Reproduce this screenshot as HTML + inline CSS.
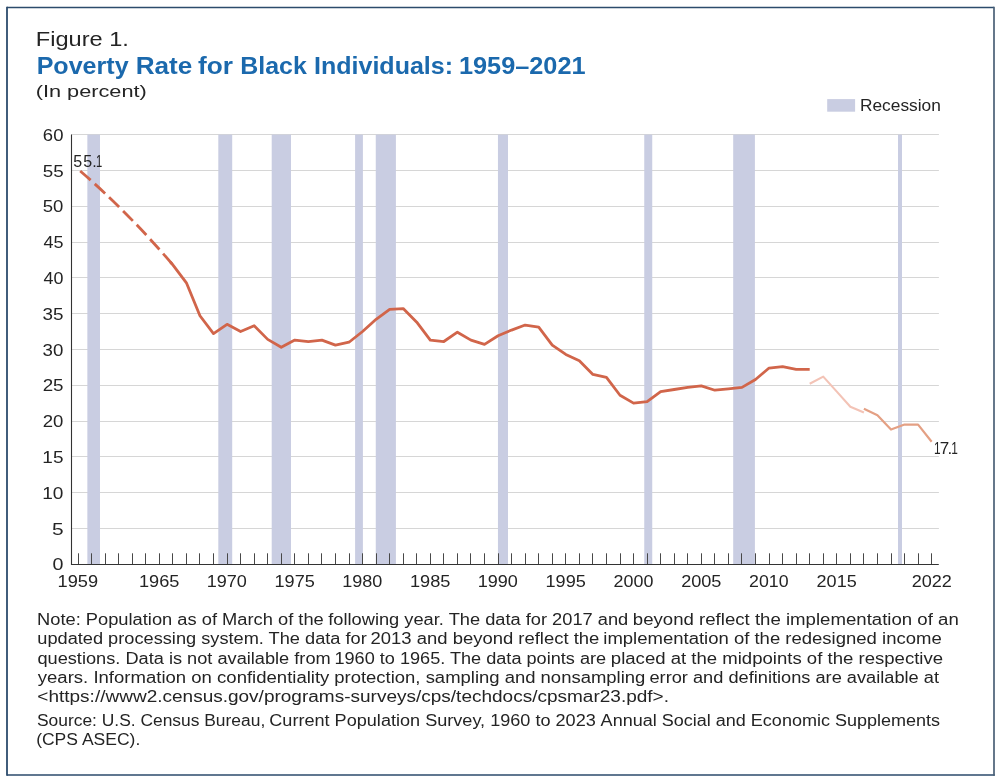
<!DOCTYPE html><html><head><meta charset="utf-8"><style>html,body{margin:0;padding:0;background:#fff;}svg{display:block}text{font-family:"Liberation Sans",Arial,sans-serif;}</style></head><body>
<svg width="1000" height="783" viewBox="0 0 1000 783">
<rect x="0" y="0" width="1000" height="783" fill="#fff"/>
<path d="M7,7.5 H994 M7,775 H994.8" stroke="#2c4b6c" stroke-width="1.7" fill="none"/>
<path d="M7,6.7 V775.8" stroke="#2c4b6c" stroke-width="1.8" fill="none"/>
<path d="M994,6.7 V775.8" stroke="#4a6076" stroke-width="1.7" fill="none"/>
<rect x="827.2" y="99.1" width="27.9" height="12.6" fill="#c9cde2"/>
<line x1="71.4" x2="938.9" y1="528.50" y2="528.50" stroke="#d6d6d6" stroke-width="1"/>
<line x1="71.4" x2="938.9" y1="492.50" y2="492.50" stroke="#d6d6d6" stroke-width="1"/>
<line x1="71.4" x2="938.9" y1="456.50" y2="456.50" stroke="#d6d6d6" stroke-width="1"/>
<line x1="71.4" x2="938.9" y1="421.50" y2="421.50" stroke="#d6d6d6" stroke-width="1"/>
<line x1="71.4" x2="938.9" y1="385.50" y2="385.50" stroke="#d6d6d6" stroke-width="1"/>
<line x1="71.4" x2="938.9" y1="349.50" y2="349.50" stroke="#d6d6d6" stroke-width="1"/>
<line x1="71.4" x2="938.9" y1="313.50" y2="313.50" stroke="#d6d6d6" stroke-width="1"/>
<line x1="71.4" x2="938.9" y1="277.50" y2="277.50" stroke="#d6d6d6" stroke-width="1"/>
<line x1="71.4" x2="938.9" y1="242.50" y2="242.50" stroke="#d6d6d6" stroke-width="1"/>
<line x1="71.4" x2="938.9" y1="206.50" y2="206.50" stroke="#d6d6d6" stroke-width="1"/>
<line x1="71.4" x2="938.9" y1="170.50" y2="170.50" stroke="#d6d6d6" stroke-width="1"/>
<line x1="71.4" x2="938.9" y1="134.50" y2="134.50" stroke="#d6d6d6" stroke-width="1"/>
<rect x="87.35" y="134.60" width="12.65" height="429.60" fill="#c9cde2"/>
<rect x="218.30" y="134.60" width="13.90" height="429.60" fill="#c9cde2"/>
<rect x="271.70" y="134.60" width="19.30" height="429.60" fill="#c9cde2"/>
<rect x="355.10" y="134.60" width="7.80" height="429.60" fill="#c9cde2"/>
<rect x="375.75" y="134.60" width="20.15" height="429.60" fill="#c9cde2"/>
<rect x="497.95" y="134.60" width="10.05" height="429.60" fill="#c9cde2"/>
<rect x="644.25" y="134.60" width="8.00" height="429.60" fill="#c9cde2"/>
<rect x="733.20" y="134.60" width="21.70" height="429.60" fill="#c9cde2"/>
<rect x="898.00" y="134.60" width="4.00" height="429.60" fill="#c9cde2"/>
<line x1="78.50" x2="78.50" y1="553.3" y2="564" stroke="#484848" stroke-width="1"/>
<line x1="91.50" x2="91.50" y1="553.3" y2="564" stroke="#484848" stroke-width="1"/>
<line x1="105.50" x2="105.50" y1="553.3" y2="564" stroke="#484848" stroke-width="1"/>
<line x1="118.50" x2="118.50" y1="553.3" y2="564" stroke="#484848" stroke-width="1"/>
<line x1="132.50" x2="132.50" y1="553.3" y2="564" stroke="#484848" stroke-width="1"/>
<line x1="145.50" x2="145.50" y1="553.3" y2="564" stroke="#484848" stroke-width="1"/>
<line x1="159.50" x2="159.50" y1="553.3" y2="564" stroke="#484848" stroke-width="1"/>
<line x1="172.50" x2="172.50" y1="553.3" y2="564" stroke="#484848" stroke-width="1"/>
<line x1="186.50" x2="186.50" y1="553.3" y2="564" stroke="#484848" stroke-width="1"/>
<line x1="199.50" x2="199.50" y1="553.3" y2="564" stroke="#484848" stroke-width="1"/>
<line x1="213.50" x2="213.50" y1="553.3" y2="564" stroke="#484848" stroke-width="1"/>
<line x1="227.50" x2="227.50" y1="553.3" y2="564" stroke="#484848" stroke-width="1"/>
<line x1="240.50" x2="240.50" y1="553.3" y2="564" stroke="#484848" stroke-width="1"/>
<line x1="254.50" x2="254.50" y1="553.3" y2="564" stroke="#484848" stroke-width="1"/>
<line x1="267.50" x2="267.50" y1="553.3" y2="564" stroke="#484848" stroke-width="1"/>
<line x1="281.50" x2="281.50" y1="553.3" y2="564" stroke="#484848" stroke-width="1"/>
<line x1="294.50" x2="294.50" y1="553.3" y2="564" stroke="#484848" stroke-width="1"/>
<line x1="308.50" x2="308.50" y1="553.3" y2="564" stroke="#484848" stroke-width="1"/>
<line x1="321.50" x2="321.50" y1="553.3" y2="564" stroke="#484848" stroke-width="1"/>
<line x1="335.50" x2="335.50" y1="553.3" y2="564" stroke="#484848" stroke-width="1"/>
<line x1="349.50" x2="349.50" y1="553.3" y2="564" stroke="#484848" stroke-width="1"/>
<line x1="362.50" x2="362.50" y1="553.3" y2="564" stroke="#484848" stroke-width="1"/>
<line x1="376.50" x2="376.50" y1="553.3" y2="564" stroke="#484848" stroke-width="1"/>
<line x1="389.50" x2="389.50" y1="553.3" y2="564" stroke="#484848" stroke-width="1"/>
<line x1="403.50" x2="403.50" y1="553.3" y2="564" stroke="#484848" stroke-width="1"/>
<line x1="416.50" x2="416.50" y1="553.3" y2="564" stroke="#484848" stroke-width="1"/>
<line x1="430.50" x2="430.50" y1="553.3" y2="564" stroke="#484848" stroke-width="1"/>
<line x1="443.50" x2="443.50" y1="553.3" y2="564" stroke="#484848" stroke-width="1"/>
<line x1="457.50" x2="457.50" y1="553.3" y2="564" stroke="#484848" stroke-width="1"/>
<line x1="470.50" x2="470.50" y1="553.3" y2="564" stroke="#484848" stroke-width="1"/>
<line x1="484.50" x2="484.50" y1="553.3" y2="564" stroke="#484848" stroke-width="1"/>
<line x1="498.50" x2="498.50" y1="553.3" y2="564" stroke="#484848" stroke-width="1"/>
<line x1="511.50" x2="511.50" y1="553.3" y2="564" stroke="#484848" stroke-width="1"/>
<line x1="525.50" x2="525.50" y1="553.3" y2="564" stroke="#484848" stroke-width="1"/>
<line x1="538.50" x2="538.50" y1="553.3" y2="564" stroke="#484848" stroke-width="1"/>
<line x1="552.50" x2="552.50" y1="553.3" y2="564" stroke="#484848" stroke-width="1"/>
<line x1="565.50" x2="565.50" y1="553.3" y2="564" stroke="#484848" stroke-width="1"/>
<line x1="579.50" x2="579.50" y1="553.3" y2="564" stroke="#484848" stroke-width="1"/>
<line x1="592.50" x2="592.50" y1="553.3" y2="564" stroke="#484848" stroke-width="1"/>
<line x1="606.50" x2="606.50" y1="553.3" y2="564" stroke="#484848" stroke-width="1"/>
<line x1="620.50" x2="620.50" y1="553.3" y2="564" stroke="#484848" stroke-width="1"/>
<line x1="633.50" x2="633.50" y1="553.3" y2="564" stroke="#484848" stroke-width="1"/>
<line x1="647.50" x2="647.50" y1="553.3" y2="564" stroke="#484848" stroke-width="1"/>
<line x1="660.50" x2="660.50" y1="553.3" y2="564" stroke="#484848" stroke-width="1"/>
<line x1="674.50" x2="674.50" y1="553.3" y2="564" stroke="#484848" stroke-width="1"/>
<line x1="687.50" x2="687.50" y1="553.3" y2="564" stroke="#484848" stroke-width="1"/>
<line x1="701.50" x2="701.50" y1="553.3" y2="564" stroke="#484848" stroke-width="1"/>
<line x1="714.50" x2="714.50" y1="553.3" y2="564" stroke="#484848" stroke-width="1"/>
<line x1="728.50" x2="728.50" y1="553.3" y2="564" stroke="#484848" stroke-width="1"/>
<line x1="741.50" x2="741.50" y1="553.3" y2="564" stroke="#484848" stroke-width="1"/>
<line x1="755.50" x2="755.50" y1="553.3" y2="564" stroke="#484848" stroke-width="1"/>
<line x1="769.50" x2="769.50" y1="553.3" y2="564" stroke="#484848" stroke-width="1"/>
<line x1="782.50" x2="782.50" y1="553.3" y2="564" stroke="#484848" stroke-width="1"/>
<line x1="796.50" x2="796.50" y1="553.3" y2="564" stroke="#484848" stroke-width="1"/>
<line x1="809.50" x2="809.50" y1="553.3" y2="564" stroke="#484848" stroke-width="1"/>
<line x1="823.50" x2="823.50" y1="553.3" y2="564" stroke="#484848" stroke-width="1"/>
<line x1="836.50" x2="836.50" y1="553.3" y2="564" stroke="#484848" stroke-width="1"/>
<line x1="850.50" x2="850.50" y1="553.3" y2="564" stroke="#484848" stroke-width="1"/>
<line x1="863.50" x2="863.50" y1="553.3" y2="564" stroke="#484848" stroke-width="1"/>
<line x1="877.50" x2="877.50" y1="553.3" y2="564" stroke="#484848" stroke-width="1"/>
<line x1="891.50" x2="891.50" y1="553.3" y2="564" stroke="#484848" stroke-width="1"/>
<line x1="904.50" x2="904.50" y1="553.3" y2="564" stroke="#484848" stroke-width="1"/>
<line x1="918.50" x2="918.50" y1="553.3" y2="564" stroke="#484848" stroke-width="1"/>
<line x1="931.50" x2="931.50" y1="553.3" y2="564" stroke="#484848" stroke-width="1"/>
<line x1="71.5" x2="71.5" y1="134.4" y2="565" stroke="#333" stroke-width="1.1"/>
<line x1="71" x2="938.8" y1="564.5" y2="564.5" stroke="#333" stroke-width="1.1"/>
<path d="M80.2,171.0 Q126.8,211.1 172.9,264.9" fill="none" stroke="#d1654a" stroke-width="2.8" stroke-dasharray="14 5.55"/>
<polyline points="170.3,261.86 172.85,264.91 186.40,282.81 199.95,315.75 213.50,333.65 227.05,324.34 240.60,331.50 254.15,325.77 267.70,339.38 281.25,347.25 294.80,340.09 308.35,341.52 321.90,340.09 335.45,345.10 349.00,342.24 362.55,331.50 376.10,319.33 389.65,309.30 403.20,308.59 416.75,322.19 430.30,340.09 443.85,341.52 457.40,332.22 470.95,340.09 484.50,344.39 498.05,335.80 511.60,330.07 525.15,325.06 538.70,327.20 552.25,345.10 565.80,354.41 579.35,360.86 592.90,374.46 606.45,377.32 620.00,395.22 633.55,403.10 647.10,401.67 660.65,391.64 674.20,389.50 687.75,387.35 701.30,385.92 714.85,390.21 728.40,388.78 741.95,387.35 755.50,379.47 769.05,368.02 782.60,366.58 796.15,369.45 809.70,369.45" fill="none" stroke="#d1654a" stroke-width="2.8" stroke-linejoin="round"/>
<polyline points="809.70,383.77 823.25,376.61 836.80,391.64 850.35,406.68 863.90,412.41" fill="none" stroke="#f3c3b6" stroke-width="2.1" stroke-linejoin="round"/>
<polyline points="863.90,408.83 877.45,415.27 891.00,429.59 904.55,424.58 918.10,424.58 931.65,441.76" fill="none" stroke="#e4a084" stroke-width="2.2" stroke-linejoin="round"/>
<text id="fig" x="35.78" y="45.60" font-size="20.3" fill="#242424" textLength="93.12" lengthAdjust="spacingAndGlyphs">Figure 1.</text>
<text id="title0" x="36.65" y="73.80" font-size="23.5" fill="#1b69ad" font-weight="bold" textLength="91.95" lengthAdjust="spacingAndGlyphs">Poverty</text>
<text id="title1" x="135.72" y="73.80" font-size="23.5" fill="#1b69ad" font-weight="bold" textLength="56.64" lengthAdjust="spacingAndGlyphs">Rate</text>
<text id="title2" x="198.03" y="73.80" font-size="23.5" fill="#1b69ad" font-weight="bold" textLength="34.92" lengthAdjust="spacingAndGlyphs">for</text>
<text id="title3" x="240.28" y="73.80" font-size="23.5" fill="#1b69ad" font-weight="bold" textLength="66.59" lengthAdjust="spacingAndGlyphs">Black</text>
<text id="title4" x="314.01" y="73.80" font-size="23.5" fill="#1b69ad" font-weight="bold" textLength="139.05" lengthAdjust="spacingAndGlyphs">Individuals:</text>
<text id="title5" x="458.97" y="73.80" font-size="23.5" fill="#1b69ad" font-weight="bold" textLength="126.61" lengthAdjust="spacingAndGlyphs">1959–2021</text>
<text id="unit" x="35.69" y="96.80" font-size="17.4" fill="#242424" textLength="111.10" lengthAdjust="spacingAndGlyphs">(In percent)</text>
<text id="leg" x="859.94" y="110.60" font-size="16.8" fill="#242424" textLength="80.91" lengthAdjust="spacingAndGlyphs">Recession</text>
<text id="y0" x="52.48" y="570.40" font-size="15.8" fill="#242424" textLength="10.95" lengthAdjust="spacingAndGlyphs">0</text>
<text id="y5" x="51.99" y="534.60" font-size="15.8" fill="#242424" textLength="11.63" lengthAdjust="spacingAndGlyphs">5</text>
<text id="y10" x="42.21" y="498.80" font-size="15.8" fill="#242424" textLength="21.20" lengthAdjust="spacingAndGlyphs">10</text>
<text id="y15" x="42.37" y="463.00" font-size="15.8" fill="#242424" textLength="21.07" lengthAdjust="spacingAndGlyphs">15</text>
<text id="y20" x="42.69" y="427.20" font-size="15.8" fill="#242424" textLength="20.65" lengthAdjust="spacingAndGlyphs">20</text>
<text id="y25" x="42.67" y="391.40" font-size="15.8" fill="#242424" textLength="20.91" lengthAdjust="spacingAndGlyphs">25</text>
<text id="y30" x="42.56" y="355.60" font-size="15.8" fill="#242424" textLength="20.75" lengthAdjust="spacingAndGlyphs">30</text>
<text id="y35" x="42.54" y="319.80" font-size="15.8" fill="#242424" textLength="20.97" lengthAdjust="spacingAndGlyphs">35</text>
<text id="y40" x="43.44" y="284.00" font-size="15.8" fill="#242424" textLength="19.92" lengthAdjust="spacingAndGlyphs">40</text>
<text id="y45" x="43.43" y="248.20" font-size="15.8" fill="#242424" textLength="19.97" lengthAdjust="spacingAndGlyphs">45</text>
<text id="y50" x="42.70" y="212.40" font-size="15.8" fill="#242424" textLength="20.62" lengthAdjust="spacingAndGlyphs">50</text>
<text id="y55" x="42.70" y="176.60" font-size="15.8" fill="#242424" textLength="20.92" lengthAdjust="spacingAndGlyphs">55</text>
<text id="y60" x="42.86" y="140.80" font-size="15.8" fill="#242424" textLength="20.58" lengthAdjust="spacingAndGlyphs">60</text>
<text id="x1959" x="57.58" y="586.60" font-size="16" fill="#242424" textLength="40.52" lengthAdjust="spacingAndGlyphs">1959</text>
<text id="x1965" x="138.95" y="586.60" font-size="16" fill="#242424" textLength="40.44" lengthAdjust="spacingAndGlyphs">1965</text>
<text id="x1970" x="206.68" y="586.60" font-size="16" fill="#242424" textLength="40.19" lengthAdjust="spacingAndGlyphs">1970</text>
<text id="x1975" x="274.52" y="586.60" font-size="16" fill="#242424" textLength="40.25" lengthAdjust="spacingAndGlyphs">1975</text>
<text id="x1980" x="342.27" y="586.60" font-size="16" fill="#242424" textLength="40.08" lengthAdjust="spacingAndGlyphs">1980</text>
<text id="x1985" x="409.95" y="586.60" font-size="16" fill="#242424" textLength="40.44" lengthAdjust="spacingAndGlyphs">1985</text>
<text id="x1990" x="477.68" y="586.60" font-size="16" fill="#242424" textLength="40.19" lengthAdjust="spacingAndGlyphs">1990</text>
<text id="x1995" x="545.52" y="586.60" font-size="16" fill="#242424" textLength="40.25" lengthAdjust="spacingAndGlyphs">1995</text>
<text id="x2000" x="613.59" y="586.60" font-size="16" fill="#242424" textLength="39.75" lengthAdjust="spacingAndGlyphs">2000</text>
<text id="x2005" x="681.17" y="586.60" font-size="16" fill="#242424" textLength="40.27" lengthAdjust="spacingAndGlyphs">2005</text>
<text id="x2010" x="749.14" y="586.60" font-size="16" fill="#242424" textLength="39.46" lengthAdjust="spacingAndGlyphs">2010</text>
<text id="x2015" x="816.58" y="586.60" font-size="16" fill="#242424" textLength="40.15" lengthAdjust="spacingAndGlyphs">2015</text>
<text id="x2022" x="911.75" y="586.60" font-size="16" fill="#242424" textLength="40.13" lengthAdjust="spacingAndGlyphs">2022</text>
<text id="n0_0" x="37.01" y="625.00" font-size="15.6" fill="#242424" textLength="286.78" lengthAdjust="spacingAndGlyphs">Note: Population as of March of the</text>
<text id="n0_1" x="328.24" y="625.00" font-size="15.6" fill="#242424" textLength="300.02" lengthAdjust="spacingAndGlyphs">following year. The data for 2017 and</text>
<text id="n0_2" x="632.82" y="625.00" font-size="15.6" fill="#242424" textLength="325.96" lengthAdjust="spacingAndGlyphs">beyond reflect the implementation of an</text>
<text id="n1_0" x="37.27" y="644.40" font-size="15.6" fill="#242424" textLength="329.48" lengthAdjust="spacingAndGlyphs">updated processing system. The data for</text>
<text id="n1_1" x="370.59" y="644.40" font-size="15.6" fill="#242424" textLength="228.77" lengthAdjust="spacingAndGlyphs">2013 and beyond reflect the</text>
<text id="n1_2" x="603.31" y="644.40" font-size="15.6" fill="#242424" textLength="338.38" lengthAdjust="spacingAndGlyphs">implementation of the redesigned income</text>
<text id="n2_0" x="37.43" y="663.50" font-size="15.6" fill="#242424" textLength="293.26" lengthAdjust="spacingAndGlyphs">questions. Data is not available from</text>
<text id="n2_1" x="334.45" y="663.50" font-size="15.6" fill="#242424" textLength="271.66" lengthAdjust="spacingAndGlyphs">1960 to 1965. The data points are</text>
<text id="n2_2" x="610.83" y="663.50" font-size="15.6" fill="#242424" textLength="332.24" lengthAdjust="spacingAndGlyphs">placed at the midpoints of the respective</text>
<text id="n3_0" x="37.77" y="682.70" font-size="15.6" fill="#242424" textLength="291.64" lengthAdjust="spacingAndGlyphs">years. Information on confidentiality</text>
<text id="n3_1" x="334.29" y="682.70" font-size="15.6" fill="#242424" textLength="311.03" lengthAdjust="spacingAndGlyphs">protection, sampling and nonsampling</text>
<text id="n3_2" x="649.47" y="682.70" font-size="15.6" fill="#242424" textLength="289.53" lengthAdjust="spacingAndGlyphs">error and definitions are available at</text>
<text id="n4" x="37.34" y="702.20" font-size="15.6" fill="#242424" textLength="631.66" lengthAdjust="spacingAndGlyphs">&lt;https://www2.census.gov/programs-surveys/cps/techdocs/cpsmar23.pdf&gt;.</text>
<text id="s0_0" x="36.94" y="725.80" font-size="15.6" fill="#242424" textLength="228.29" lengthAdjust="spacingAndGlyphs">Source: U.S. Census Bureau,</text>
<text id="s0_1" x="269.25" y="725.80" font-size="15.6" fill="#242424" textLength="326.56" lengthAdjust="spacingAndGlyphs">Current Population Survey, 1960 to 2023</text>
<text id="s0_2" x="600.61" y="725.80" font-size="15.6" fill="#242424" textLength="339.51" lengthAdjust="spacingAndGlyphs">Annual Social and Economic Supplements</text>
<text id="s1" x="36.15" y="745.00" font-size="15.6" fill="#242424" textLength="104.14" lengthAdjust="spacingAndGlyphs">(CPS ASEC).</text>
<text x="73.2 83.36 92.34" y="167.3" font-size="16" fill="#242424">55.<tspan x="96.08" textLength="6.23" lengthAdjust="spacingAndGlyphs">1</tspan></text>
<text y="453.8" font-size="17" fill="#242424"><tspan x="933.98" textLength="6.62" lengthAdjust="spacingAndGlyphs">1</tspan><tspan x="939.8">7</tspan><tspan x="947.44">.</tspan><tspan x="951.18" textLength="6.62" lengthAdjust="spacingAndGlyphs">1</tspan></text>
</svg></body></html>
